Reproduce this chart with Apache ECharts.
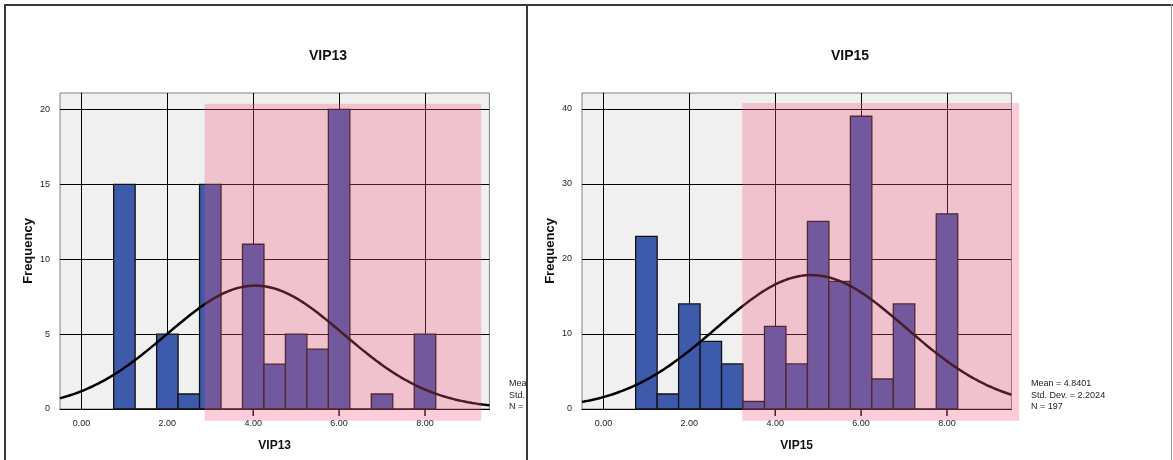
<!DOCTYPE html>
<html>
<head>
<meta charset="utf-8">
<script src="https://cdn.jsdelivr.net/npm/echarts@6/dist/echarts.min.js"></script>
<style>
  html, body { margin: 0; padding: 0; background: #fff; }
  body { width: 1173px; height: 460px; position: relative; overflow: hidden; }
  .chart { position: absolute; top: 0; height: 460px; background: #fff; }
  .ln { position: absolute; }
</style>
</head>
<body>
<div id="c1" class="chart" style="left:5px;width:522px;"></div>
<div id="c2" class="chart" style="left:527px;width:646px;"></div>
<div class="ln" style="left:5px;top:4px;width:1168px;height:2px;background:#3a3a3a;"></div>
<div class="ln" style="left:4px;top:4px;width:2px;height:456px;background:#3a3a3a;"></div>
<div class="ln" style="left:526px;top:4px;width:2px;height:456px;background:#3a3a3a;"></div>
<div class="ln" style="left:1171px;top:4px;width:1px;height:456px;background:#999;"></div>
<script>
// ---------------- data ----------------
const binCenters = [1.0, 1.5, 2.0, 2.5, 3.0, 3.5, 4.0, 4.5, 5.0, 5.5, 6.0, 6.5, 7.0, 7.5, 8.0];
const vip13Counts = [15, 0, 5, 1, 15, 0, 11, 3, 5, 4, 20, 0, 1, 0, 5];
const vip15Counts = [23, 2, 14, 9, 6, 1, 11, 6, 25, 17, 39, 4, 14, 0, 26];
const binWidth = 0.5;
const xTickValues = [0, 2, 4, 6, 8];
const vip13YTicks = [0, 5, 10, 15, 20];
const vip15YTicks = [0, 10, 20, 30, 40];
const vip13Stats = [4.0471, 2.0581, 85];   // mean, std. dev., N
const vip15Stats = [4.8401, 2.2024, 197];  // mean, std. dev., N

const FONT = "'Liberation Sans', Arial, Helvetica, sans-serif";

function normalCurve(stats) {
  const m = stats[0], sd = stats[1], n = stats[2];
  const k = n * binWidth / (sd * Math.sqrt(2 * Math.PI));
  const pts = [];
  for (let i = 0; i <= 200; i++) {
    const x = -0.5 + i * 0.05;
    pts.push([x, k * Math.exp(-((x - m) * (x - m)) / (2 * sd * sd))]);
  }
  return pts;
}

function build(el, name, counts, stats, yTicks, yMax, hl) {
  const chart = echarts.init(document.getElementById(el), null, { renderer: 'canvas' });
  const barData = binCenters.map((c, i) => [c, counts[i]]);
  const tickData = xTickValues.filter(v => v >= hl[0]).map(v => [v, 0]);
  chart.setOption({
    animation: false,
    grid: {
      left: 55, top: 93, width: 429.4, height: 316,
      show: true, backgroundColor: '#F0F0F0', borderColor: '#808080', borderWidth: 1
    },
    xAxis: {
      type: 'value', min: -0.5, max: 9.5,
      name: name, nameLocation: 'middle', nameGap: 30.5, nameMoveOverlap: false,
      nameTextStyle: { fontFamily: FONT, fontWeight: 'bold', fontSize: 12, color: '#111' },
      axisLine: { show: true, onZero: false, lineStyle: { color: '#000', width: 1 } },
      axisTick: { show: false, customValues: xTickValues },
      axisLabel: {
        customValues: xTickValues, margin: 10,
        fontFamily: FONT, fontSize: 9, color: '#222',
        formatter: v => v.toFixed(2)
      },
      splitLine: { show: true, lineStyle: { color: '#000', width: 1 } }
    },
    yAxis: {
      type: 'value', min: 0, max: yMax,
      name: 'Frequency', nameLocation: 'middle', nameGap: 25, nameMoveOverlap: false,
      nameTextStyle: { fontFamily: FONT, fontWeight: 'bold', fontSize: 13, color: '#111' },
      axisLine: { show: true, lineStyle: { color: '#000', width: 1 } },
      axisTick: { show: true, length: 6, customValues: yTicks, lineStyle: { color: '#000' } },
      axisLabel: { customValues: yTicks, margin: 10, fontFamily: FONT, fontSize: 9, color: '#222' },
      splitLine: { show: true, lineStyle: { color: '#000', width: 1 } }
    },
    series: [
      {
        type: 'custom', z: 2, clip: false,
        data: barData,
        renderItem: function (params, api) {
          const x = api.value(0), y = api.value(1);
          const p0 = api.coord([x - binWidth / 2, y]);
          const p1 = api.coord([x + binWidth / 2, 0]);
          return {
            type: 'rect',
            shape: { x: p0[0], y: p0[1], width: p1[0] - p0[0], height: p1[1] - p0[1] },
            style: { fill: '#3D5AAB', stroke: '#111', lineWidth: 1.3 }
          };
        }
      },
      {
        type: 'line', z: 3, data: normalCurve(stats), showSymbol: false, smooth: false,
        lineStyle: { color: '#000', width: 2.5 }, silent: true
      },
      {
        type: 'custom', z: 4, clip: false,
        data: tickData,
        renderItem: function (params, api) {
          const p = api.coord([api.value(0), 0]);
          return {
            type: 'line',
            shape: { x1: p[0], y1: p[1], x2: p[0], y2: p[1] + 7 },
            style: { stroke: '#000', lineWidth: 1.5 }
          };
        }
      },
      {
        type: 'custom', z: 10, clip: false, silent: true,
        data: [hl],
        renderItem: function (params, api) {
          const a = api.coord([api.value(0), api.value(3)]);
          const b = api.coord([api.value(1), api.value(2)]);
          return {
            type: 'rect',
            shape: { x: a[0], y: a[1], width: b[0] - a[0], height: b[1] - a[1] },
            style: { fill: 'rgba(237,90,127,0.3)' }
          };
        }
      }
    ],
    graphic: [
      {
        type: 'text', x: 323, y: 56, z: 20,
        style: { text: name, font: 'bold 14px ' + FONT, fill: '#111', textAlign: 'center', textVerticalAlign: 'middle' }
      },
      {
        type: 'text', x: 504, y: 378, z: 20,
        style: {
          text: 'Mean = ' + stats[0].toFixed(4) + '\nStd. Dev. = ' + stats[1].toFixed(4) + '\nN = ' + stats[2],
          font: '9px ' + FONT, fill: '#222', lineHeight: 11.4, textAlign: 'left', textVerticalAlign: 'top'
        }
      }
    ]
  });
  return chart;
}

build('c1', 'VIP13', vip13Counts, vip13Stats, vip13YTicks, 21.1, [2.867, 9.31, -0.78, 20.38]);
build('c2', 'VIP15', vip15Counts, vip15Stats, vip15YTicks, 42.1, [3.233, 9.68, -1.56, 40.76]);
</script>
</body>
</html>
